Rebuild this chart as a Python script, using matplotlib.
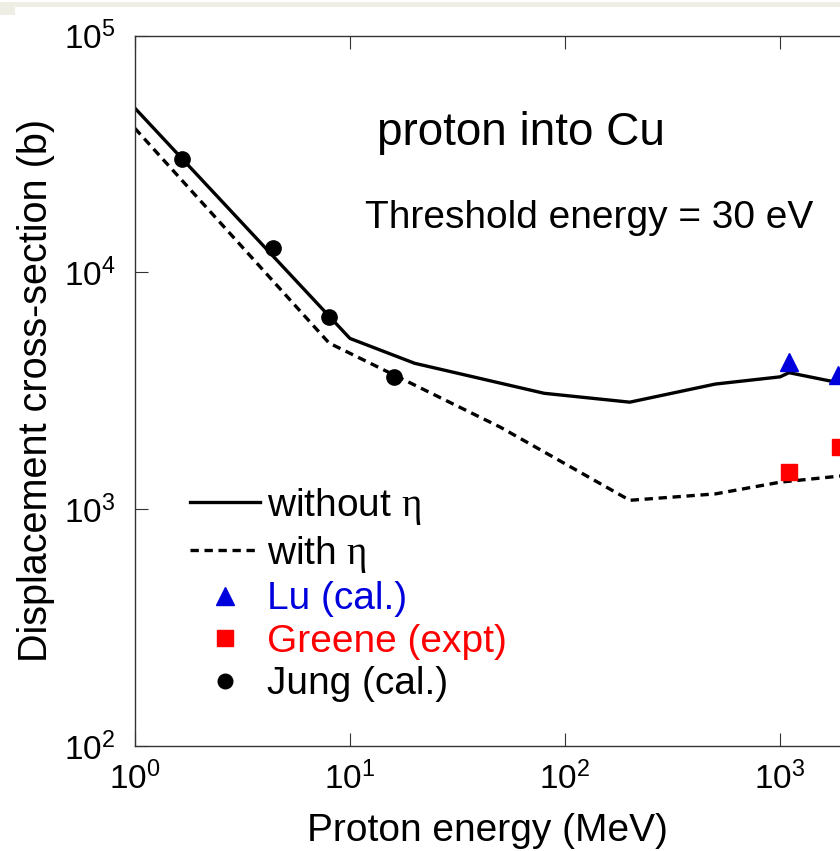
import matplotlib
matplotlib.use('Agg')
import matplotlib.pyplot as plt
from matplotlib.lines import Line2D
from matplotlib.patches import Rectangle
from matplotlib.ticker import LogLocator, NullLocator

plt.rcParams['font.family'] = ['Liberation Sans', 'DejaVu Sans']
plt.rcParams['mathtext.fontset'] = 'custom'
plt.rcParams['mathtext.rm'] = 'Liberation Serif'
plt.rcParams['mathtext.it'] = 'Liberation Serif:italic'
plt.rcParams['mathtext.bf'] = 'Liberation Serif:bold'

# ---------------- data ----------------
energy_without = [1, 10, 20, 80, 200, 500, 1000, 1100, 1900]
xs_without = [49400, 5260, 4130, 3085, 2830, 3375, 3620, 3770, 3410]

energy_with = [1, 8, 50, 200, 500, 1000, 1900]
xs_with = [40600, 5030, 2220, 1090, 1160, 1300, 1380]

lu_energy = [1100, 1850]
lu_xs = [4170, 3690]

greene_energy = [1100, 1900]
greene_xs = [1440, 1835]

jung_energy = [1.65, 4.4, 8.0, 16.0]
jung_xs = [30100, 12700, 6460, 3600]

labels = [r'without $\mathrm{\eta}$', r'with $\mathrm{\eta}$',
          'Lu (cal.)', 'Greene (expt)', 'Jung (cal.)']
label_colors = ['black', 'black', '#0000DD', '#FF0000', 'black']

# ---------------- figure ----------------
W, H = 840, 851
fig = plt.figure(figsize=(W / 100, H / 100), dpi=100)

# light strip at top
fig.add_artist(Rectangle((0, 1 - 7 / H), 1, 5 / H, transform=fig.transFigure,
                         color='#EFEEE5', zorder=0, lw=0))
fig.add_artist(Rectangle((0, 1 - 15 / H), 15 / W, 8 / H, transform=fig.transFigure,
                         color='#EFEEE5', zorder=0, lw=0))

ax_left, ax_top, ax_bot = 134.8, 35.5, 746.0
ax = fig.add_axes([ax_left / W, 1 - ax_bot / H, 1 - ax_left / W, (ax_bot - ax_top) / H])
ax.set_xscale('log')
ax.set_yscale('log')
ax.set_xlim(1, 10 ** ((W - ax_left) / 215.1))
ax.set_ylim(1e2, 1e5)

lw = 2.4
dash = (0, (2.5, 1.7))
ax.plot(energy_without, xs_without, color='black', lw=lw, zorder=2)
ax.plot(energy_with, xs_with, color='black', lw=lw, linestyle=dash, zorder=2)
ax.plot(lu_energy, lu_xs, linestyle='none', marker='^', ms=13,
        color='#0000DD', zorder=3)
ax.plot(greene_energy, greene_xs, linestyle='none', marker='s', ms=11.5,
        color='#FF0000', zorder=3)
ax.plot(jung_energy, jung_xs, linestyle='none', marker='o', ms=11,
        color='black', zorder=3)

# axes styling
for side in ['left', 'bottom', 'top']:
    ax.spines[side].set_linewidth(1.0)
    ax.spines[side].set_color('#333333')
ax.spines['right'].set_visible(False)

ax.xaxis.set_major_locator(LogLocator(base=10, numticks=10))
ax.yaxis.set_major_locator(LogLocator(base=10, numticks=10))
ax.xaxis.set_minor_locator(NullLocator())
ax.yaxis.set_minor_locator(NullLocator())
ax.tick_params(which='major', direction='in', length=9.4, width=0.8, color='#333333',
               top=True, right=False, labelsize=24)
ax.tick_params(axis='x', pad=11)
ax.tick_params(axis='y', pad=14)

ax.set_xlabel('Proton energy (MeV)', fontsize=28)
ax.set_ylabel('Displacement cross-section (b)', fontsize=28.5)
ax.xaxis.set_label_coords(0.5, -0.094)
ax.yaxis.set_label_coords(-0.113, 0.5)

aw, ah = W - ax_left, ax_bot - ax_top
ax.text((377 - ax_left) / aw, (ax_bot - 145) / ah, 'proton into Cu', fontsize=33,
        transform=ax.transAxes, ha='left', va='baseline')
ax.text((365 - ax_left) / aw, (ax_bot - 228) / ah, 'Threshold energy = 30 eV', fontsize=28,
        transform=ax.transAxes, ha='left', va='baseline')

handles = [
    Line2D([], [], color='black', lw=lw),
    Line2D([], [], color='black', lw=lw, linestyle=dash),
    Line2D([], [], color='#0000DD', marker='^', ms=13, linestyle='none'),
    Line2D([], [], color='#FF0000', marker='s', ms=11, linestyle='none'),
    Line2D([], [], color='black', marker='o', ms=10.5, linestyle='none'),
]
leg = ax.legend(handles, labels, loc='upper left',
                bbox_to_anchor=((190 - ax_left) / aw, (ax_bot - 486) / ah),
                frameon=False, fontsize=28, borderpad=0, borderaxespad=0,
                handlelength=1.8, handletextpad=0.18, labelspacing=0.17, numpoints=1)
for t, c in zip(leg.get_texts(), label_colors):
    t.set_color(c)

fig.savefig('out.png', dpi=100)
